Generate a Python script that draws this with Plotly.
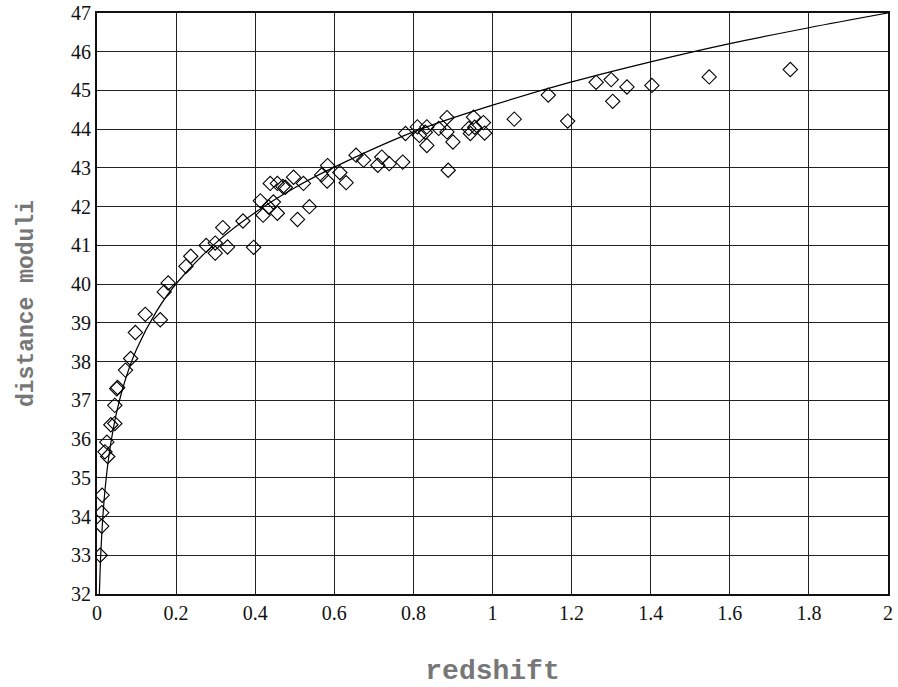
import plotly.graph_objects as go

# observed supernovae: redshift and distance modulus
redshift = [0.008, 0.012, 0.012, 0.013, 0.020, 0.027, 0.025, 0.035, 0.045, 0.045,
            0.052, 0.050, 0.072, 0.085, 0.097, 0.122, 0.160,
            0.170, 0.180, 0.225, 0.237, 0.276, 0.299, 0.299, 0.330, 0.318, 0.369,
            0.396, 0.413, 0.420, 0.434, 0.446, 0.456, 0.438, 0.456, 0.476, 0.497,
            0.470, 0.522, 0.507, 0.537, 0.568, 0.583, 0.582, 0.614, 0.630,
            0.655, 0.674, 0.710, 0.720, 0.739, 0.773, 0.780, 0.810, 0.815, 0.834,
            0.834, 0.830, 0.864, 0.885, 0.885, 0.900, 0.888, 0.940, 0.944, 0.952,
            0.955, 0.977, 0.980,
            1.055, 1.141, 1.190, 1.262, 1.300, 1.304, 1.340, 1.403, 1.548, 1.753]
distance_moduli = [33.00, 33.75, 34.10, 34.55, 35.67, 35.55, 35.92, 36.37, 36.40, 36.87,
                   37.33, 37.30, 37.78, 38.08, 38.75, 39.22, 39.08,
                   39.80, 40.03, 40.46, 40.72, 41.00, 41.06, 40.80, 40.96, 41.46, 41.63,
                   40.95, 42.15, 41.78, 41.99, 42.12, 41.83, 42.60, 42.60, 42.50, 42.76,
                   42.52, 42.60, 41.67, 42.00, 42.82, 43.06, 42.66, 42.88, 42.62,
                   43.33, 43.20, 43.07, 43.28, 43.11, 43.15, 43.89, 44.06, 43.84, 44.06,
                   43.58, 43.92, 44.02, 44.30, 43.93, 43.67, 42.94, 44.02, 43.89, 44.31,
                   44.05, 44.17, 43.90,
                   44.26, 44.88, 44.21, 45.21, 45.28, 44.72, 45.09, 45.13, 45.35, 45.54]

# model curve
curve_z = [0.006, 0.008, 0.010, 0.015, 0.020, 0.030, 0.040, 0.050, 0.070, 0.100,
           0.150, 0.200, 0.300, 0.400, 0.500, 0.600, 0.800, 1.000, 1.200, 1.400,
           1.600, 1.800, 2.000]
curve_mu = [32.00, 32.64, 33.13, 34.02, 34.66, 35.56, 36.20, 36.71, 37.48, 38.32,
            39.29, 40.01, 41.06, 41.85, 42.49, 43.02, 43.93, 44.62, 45.22, 45.74,
            46.21, 46.62, 47.00]

x_ticks = [0, 0.2, 0.4, 0.6, 0.8, 1, 1.2, 1.4, 1.6, 1.8, 2]
y_ticks = list(range(32, 48))

fig = go.Figure()
fig.add_trace(go.Scatter(
    x=curve_z, y=curve_mu, mode="lines", line=dict(color="black", width=1.2, shape="spline"),
    showlegend=False, hoverinfo="skip"))
fig.add_trace(go.Scatter(
    x=redshift, y=distance_moduli, mode="markers",
    marker=dict(symbol="diamond-open", size=11, color="black", line=dict(width=1.1, color="black")),
    showlegend=False))

tick_font = dict(family="Liberation Sans Narrow, Liberation Serif, serif", size=20, color="#111")
title_color = "#777777"

fig.update_layout(
    width=898, height=687,
    margin=dict(l=97, r=10, t=13, b=93, autoexpand=False),
    paper_bgcolor="white", plot_bgcolor="white",
    xaxis=dict(range=[0, 2], tickvals=x_ticks, ticktext=[str(v) for v in x_ticks],
               showgrid=True, gridcolor="#222", gridwidth=1.3,
               showline=True, linecolor="#111", linewidth=2, mirror=True,
               zeroline=False, ticks="", tickfont=tick_font, automargin=False,
               title=dict(text="<b>redshift</b>", standoff=40,
                          font=dict(family="Liberation Mono, monospace", size=28, color=title_color))),
    yaxis=dict(range=[32, 47], tickvals=y_ticks, ticktext=[str(v) for v in y_ticks],
               showgrid=True, gridcolor="#222", gridwidth=1.3,
               showline=True, linecolor="#111", linewidth=2, mirror=True,
               zeroline=False, ticks="", tickfont=tick_font, automargin=False,
               title=dict(text="<b>distance moduli</b>", standoff=31,
                          font=dict(family="Liberation Mono, monospace", size=23, color=title_color))),
)

fig.write_html("out.html", config={"displayModeBar": False},
               post_script="document.body.style.margin='0';document.body.style.overflow='hidden';")
